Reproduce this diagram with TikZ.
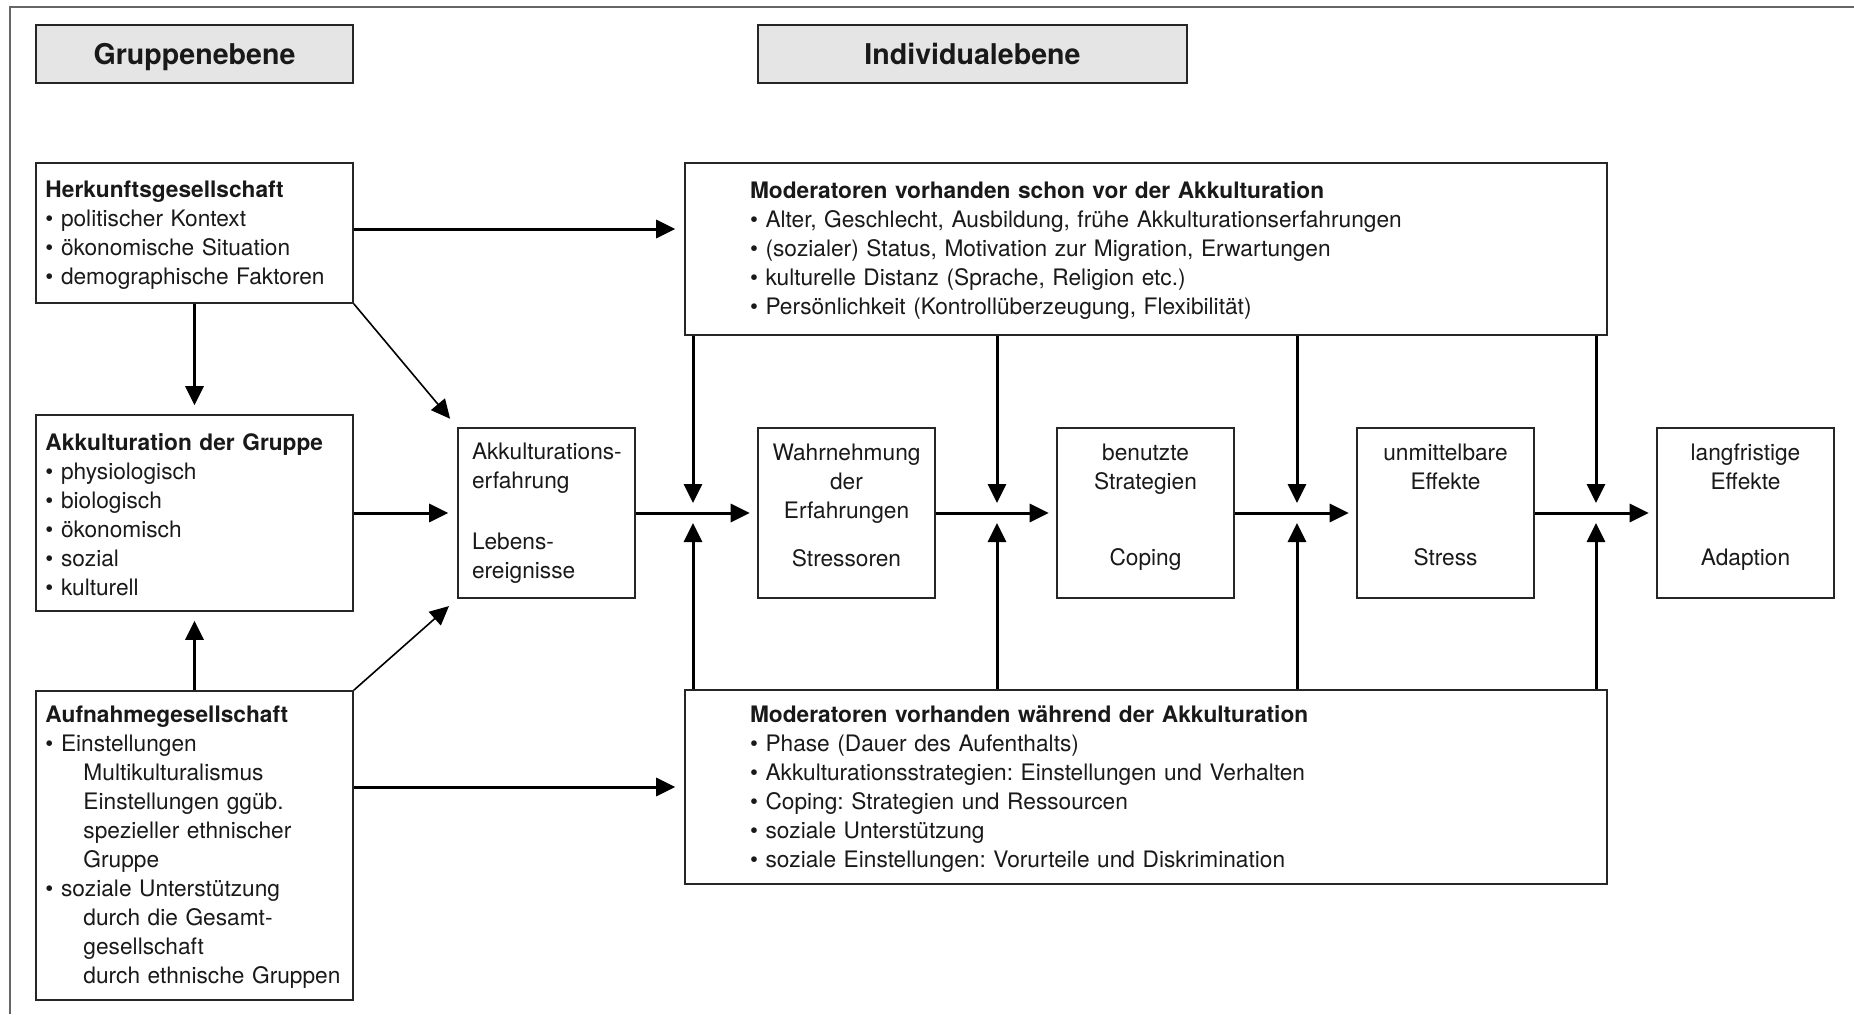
\documentclass[tikz,border=0pt]{standalone}
\usepackage{fontspec}
\setmainfont{TeX Gyre Heros}
\usetikzlibrary{arrows.meta,positioning}

\newcommand{\bodyfont}{\fontsize{11.35pt}{14.5pt}\selectfont\hyphenpenalty=10000\frenchspacing}
\newcommand{\headfont}{\fontsize{14.3pt}{17pt}\selectfont\bfseries}

\tikzset{
  box/.style={draw=black!85, line width=0.8pt, inner ysep=0pt, font=\bodyfont, text=black!90},
  listbox/.style={box, align=left, text width=149pt, inner xsep=4.75pt, execute at begin node=\strut},
  modbox/.style={box, align=left, text width=396pt, inner xsep=32.5pt, execute at begin node=\strut},
  stage/.style={box, minimum width=88.5pt, minimum height=85pt},
  stagetext/.style={font=\bodyfont, text=black!90, align=center, inner sep=0pt, anchor=north},
  level/.style={draw=black!85, fill=black!10, line width=0.8pt, minimum height=29pt,
    text height=13pt, text depth=3pt, font=\headfont, text=black!90},
  flow/.style={line width=1.5pt, -{Triangle[length=9.5pt,width=9pt]}, shorten >=4.5pt},
}

\begin{document}
\begin{tikzpicture}[x=0.5pt, y=-0.5pt]
  \useasboundingbox (0,0) rectangle (1854,1014);
  \draw[black!60, line width=1pt] (10,1014) -- (10,7) -- (1854,7);

  \node[level, minimum width=158.5pt] (gruppe) at (194.5,54) {Gruppenebene};
  \node[level, minimum width=214.5pt] (indiv) at (972.5,54) {Individualebene};

  \node[listbox, minimum height=70pt] (herk) at (194.5,233) {%
    \textbf{Herkunftsgesellschaft}\\
    \textbullet\ politischer Kontext\\
    \textbullet\ ökonomische Situation\\
    \textbullet\ demographische Faktoren};
  \node[listbox, minimum height=98pt] (akkgr) at (194.5,513) {%
    \textbf{Akkulturation der Gruppe}\\
    \textbullet\ physiologisch\\
    \textbullet\ biologisch\\
    \textbullet\ ökonomisch\\
    \textbullet\ sozial\\
    \textbullet\ kulturell};
  \node[listbox, minimum height=154.5pt] (aufn) at (194.5,845.5) {%
    \textbf{Aufnahmegesellschaft}\\
    \textbullet\ Einstellungen\\
    \hspace*{19pt}Multikulturalismus\\
    \hspace*{19pt}Einstellungen ggüb.\\
    \hspace*{19pt}spezieller ethnischer\\
    \hspace*{19pt}Gruppe\\
    \textbullet\ soziale Unterstützung\\
    \hspace*{19pt}durch die Gesamt-\\
    \hspace*{19pt}gesellschaft\\
    \hspace*{19pt}durch ethnische Gruppen};

  \node[stage, align=left, text width=74.5pt, inner xsep=7pt] (akkerf) at (546.5,513)
    {\mbox{Akkulturations-}\\erfahrung\\[15.75pt]\mbox{Lebens-}\\ereignisse};

  \node[modbox, minimum height=86pt] (vor) at (1146,249) {%
    \textbf{Moderatoren vorhanden schon vor der Akkulturation}\\
    \textbullet\ Alter, Geschlecht, Ausbildung, frühe Akkulturationserfahrungen\\
    \textbullet\ (sozialer) Status, Motivation zur Migration, Erwartungen\\
    \textbullet\ kulturelle Distanz (Sprache, Religion etc.)\\
    \textbullet\ Persönlichkeit (Kontrollüberzeugung, Flexibilität)};
  \node[modbox, minimum height=97pt] (waehr) at (1146,787) {%
    \textbf{Moderatoren vorhanden während der Akkulturation}\\
    \textbullet\ Phase (Dauer des Aufenthalts)\\
    \textbullet\ Akkulturationsstrategien: Einstellungen und Verhalten\\
    \textbullet\ Coping: Strategien und Ressourcen\\
    \textbullet\ soziale Unterstützung\\
    \textbullet\ soziale Einstellungen: Vorurteile und Diskrimination};

  \node[stage] (wahr) at (846.5,513) {};
  \node[stage] (strat) at (1145.5,513) {};
  \node[stage] (unmit) at (1445.5,513) {};
  \node[stage] (langf) at (1745.5,513) {};
  \node[stagetext] (wahr-t) at ([yshift=-6.35pt]wahr.north)
    {\strut Wahrnehmung\\der\\Erfahrungen\\[9.5pt]Stressoren};
  \node[stagetext] (strat-t) at ([yshift=-6.35pt]strat.north)
    {\strut benutzte\\Strategien\\[23.5pt]Coping};
  \node[stagetext] (unmit-t) at ([yshift=-6.35pt]unmit.north)
    {\strut unmittelbare\\Effekte\\[23.5pt]Stress};
  \node[stagetext] (langf-t) at ([yshift=-6.35pt]langf.north)
    {\strut langfristige\\Effekte\\[23.5pt]Adaption};

  \coordinate (h1) at ([yshift=2pt]herk.east);
  \draw[flow] (h1) -- (h1 -| vor.west);
  \draw[flow] (aufn.east |- waehr.west) -- (waehr.west);
  \draw[flow] (herk) -- (akkgr);
  \draw[flow] (aufn) -- (akkgr);
  \draw[flow] (akkgr) -- (akkerf);
  \draw[flow, line width=0.8pt, shorten >=5.5pt] (herk.south east) -- (akkerf.north west);
  \draw[flow, line width=0.8pt, shorten >=5.5pt] (aufn.north east) -- (akkerf.south west);

  \foreach \a/\b in {akkerf/wahr, wahr/strat, strat/unmit, unmit/langf}
    \draw[flow, shorten >=3.75pt] (\a) -- (\b);

  \foreach \x [count=\i] in {693,997,1297,1596} {
    \coordinate (j\i) at (\x,513);
    \draw[flow, shorten >=5pt] (vor.south -| j\i) -- (j\i);
    \draw[flow, shorten >=5pt] (waehr.north -| j\i) -- (j\i);
  }
\end{tikzpicture}
\end{document}
